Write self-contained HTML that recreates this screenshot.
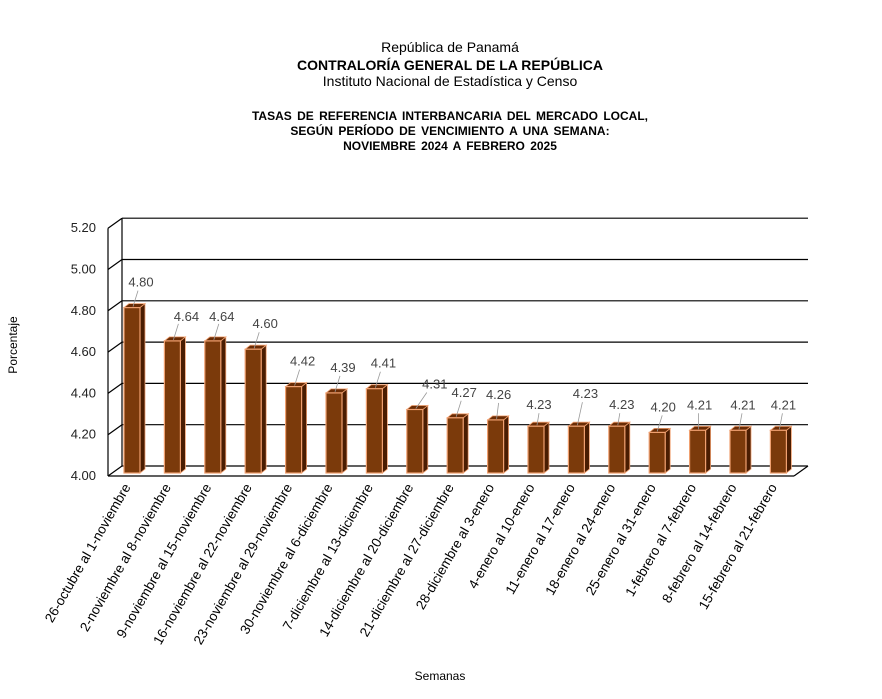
<!DOCTYPE html><html><head><meta charset="utf-8"><style>body{margin:0;background:#fff}svg{font-family:"Liberation Sans",sans-serif}
.f{fill:#7b3a0b;stroke:#f0a070;stroke-width:1.2}.s{fill:#4a1d02;stroke:#f0a070;stroke-width:.8}.t{fill:#6a2c05;stroke:#f0a070;stroke-width:.8}.l{stroke:#999;stroke-width:.8}.v{font-size:13px;fill:#444;text-anchor:middle}.x{font-size:13.5px;text-anchor:end;fill:#000}.y{font-size:13px;text-anchor:end;fill:#222}</style></head><body>
<svg width="882" height="694" xmlns="http://www.w3.org/2000/svg">
<g text-anchor="middle" fill="#000">
<text x="450" y="52" font-size="14">República de Panamá</text>
<text x="450" y="70" font-size="14" font-weight="bold">CONTRALORÍA GENERAL DE LA REPÚBLICA</text>
<text x="450" y="86" font-size="14">Instituto Nacional de Estadística y Censo</text>
<text x="450" y="120" font-size="12" font-weight="bold" word-spacing="2">TASAS DE REFERENCIA INTERBANCARIA DEL MERCADO LOCAL,</text>
<text x="450" y="135" font-size="12" font-weight="bold" word-spacing="2">SEGÚN PERÍODO DE VENCIMIENTO A UNA SEMANA:</text>
<text x="450" y="150" font-size="12" font-weight="bold" word-spacing="2">NOVIEMBRE 2024 A FEBRERO 2025</text>
<text x="440" y="680" font-size="12">Semanas</text>
<text transform="translate(17,345) rotate(-90)" font-size="12">Porcentaje</text>
</g>
<g stroke="#000" stroke-width="1.2" fill="none">
<line x1="108" y1="476" x2="122" y2="466"/><line x1="122" y1="466" x2="808" y2="466"/>
<line x1="108" y1="434.7" x2="122" y2="424.7"/><line x1="122" y1="424.7" x2="808" y2="424.7"/>
<line x1="108" y1="393.4" x2="122" y2="383.4"/><line x1="122" y1="383.4" x2="808" y2="383.4"/>
<line x1="108" y1="352.1" x2="122" y2="342.1"/><line x1="122" y1="342.1" x2="808" y2="342.1"/>
<line x1="108" y1="310.8" x2="122" y2="300.8"/><line x1="122" y1="300.8" x2="808" y2="300.8"/>
<line x1="108" y1="269.5" x2="122" y2="259.5"/><line x1="122" y1="259.5" x2="808" y2="259.5"/>
<line x1="108" y1="228.2" x2="122" y2="218.2"/><line x1="122" y1="218.2" x2="808" y2="218.2"/>
<line x1="108" y1="476" x2="108" y2="228.2"/><line x1="122" y1="466" x2="122" y2="218.2"/>
<line x1="108" y1="476" x2="794" y2="476"/><line x1="794" y1="476" x2="808" y2="466"/>
</g>
<text class="y" x="96" y="480">4.00</text><text class="y" x="96" y="438.7">4.20</text><text class="y" x="96" y="397.4">4.40</text><text class="y" x="96" y="356.1">4.60</text><text class="y" x="96" y="314.8">4.80</text><text class="y" x="96" y="273.5">5.00</text><text class="y" x="96" y="232.2">5.20</text>

<g transform="translate(124,307.6)"><polygon class="s" points="16,0 21,-4 21,161.4 16,165.4"/><polygon class="t" points="0,0 5,-4 21,-4 16,0"/><rect class="f" width="16" height="165.4"/><line class="l" x1="9" y1="-1" x2="14" y2="-17"/><text class="v" x="17" y="-21">4.80</text></g>
<g transform="translate(164.4,340.9)"><polygon class="s" points="16,0 21,-4 21,128.1 16,132.1"/><polygon class="t" points="0,0 5,-4 21,-4 16,0"/><rect class="f" width="16" height="132.1"/><line class="l" x1="9" y1="-1" x2="14" y2="-17"/><text class="v" x="22" y="-20">4.64</text></g>
<g transform="translate(204.8,340.9)"><polygon class="s" points="16,0 21,-4 21,128.1 16,132.1"/><polygon class="t" points="0,0 5,-4 21,-4 16,0"/><rect class="f" width="16" height="132.1"/><line class="l" x1="9" y1="-1" x2="14" y2="-17"/><text class="v" x="17" y="-20">4.64</text></g>
<g transform="translate(245.2,349.2)"><polygon class="s" points="16,0 21,-4 21,119.8 16,123.8"/><polygon class="t" points="0,0 5,-4 21,-4 16,0"/><rect class="f" width="16" height="123.8"/><line class="l" x1="9" y1="-1" x2="14" y2="-17"/><text class="v" x="20" y="-21">4.60</text></g>
<g transform="translate(285.6,386.6)"><polygon class="s" points="16,0 21,-4 21,82.4 16,86.4"/><polygon class="t" points="0,0 5,-4 21,-4 16,0"/><rect class="f" width="16" height="86.4"/><line class="l" x1="9" y1="-1" x2="14" y2="-17"/><text class="v" x="17" y="-21">4.42</text></g>
<g transform="translate(326,392.9)"><polygon class="s" points="16,0 21,-4 21,76.1 16,80.1"/><polygon class="t" points="0,0 5,-4 21,-4 16,0"/><rect class="f" width="16" height="80.1"/><line class="l" x1="9" y1="-1" x2="14" y2="-17"/><text class="v" x="17" y="-21">4.39</text></g>
<g transform="translate(366.4,388.7)"><polygon class="s" points="16,0 21,-4 21,80.3 16,84.3"/><polygon class="t" points="0,0 5,-4 21,-4 16,0"/><rect class="f" width="16" height="84.3"/><line class="l" x1="9" y1="-1" x2="14" y2="-17"/><text class="v" x="17" y="-21">4.41</text></g>
<g transform="translate(406.8,409.5)"><polygon class="s" points="16,0 21,-4 21,59.5 16,63.5"/><polygon class="t" points="0,0 5,-4 21,-4 16,0"/><rect class="f" width="16" height="63.5"/><line class="l" x1="9" y1="-1" x2="20" y2="-17"/><text class="v" x="28" y="-21">4.31</text></g>
<g transform="translate(447.2,417.8)"><polygon class="s" points="16,0 21,-4 21,51.2 16,55.2"/><polygon class="t" points="0,0 5,-4 21,-4 16,0"/><rect class="f" width="16" height="55.2"/><line class="l" x1="9" y1="-1" x2="14" y2="-17"/><text class="v" x="17" y="-21">4.27</text></g>
<g transform="translate(487.6,419.9)"><polygon class="s" points="16,0 21,-4 21,49.1 16,53.1"/><polygon class="t" points="0,0 5,-4 21,-4 16,0"/><rect class="f" width="16" height="53.1"/><line class="l" x1="9" y1="-1" x2="11" y2="-17"/><text class="v" x="11" y="-21">4.26</text></g>
<g transform="translate(528,426.2)"><polygon class="s" points="16,0 21,-4 21,42.8 16,46.8"/><polygon class="t" points="0,0 5,-4 21,-4 16,0"/><rect class="f" width="16" height="46.8"/><line class="l" x1="9" y1="-1" x2="11" y2="-13"/><text class="v" x="11" y="-17">4.23</text></g>
<g transform="translate(568.4,426.2)"><polygon class="s" points="16,0 21,-4 21,42.8 16,46.8"/><polygon class="t" points="0,0 5,-4 21,-4 16,0"/><rect class="f" width="16" height="46.8"/><line class="l" x1="9" y1="-1" x2="14" y2="-24"/><text class="v" x="17" y="-28">4.23</text></g>
<g transform="translate(608.8,426.2)"><polygon class="s" points="16,0 21,-4 21,42.8 16,46.8"/><polygon class="t" points="0,0 5,-4 21,-4 16,0"/><rect class="f" width="16" height="46.8"/><line class="l" x1="9" y1="-1" x2="11" y2="-13"/><text class="v" x="13" y="-17">4.23</text></g>
<g transform="translate(649.2,432.4)"><polygon class="s" points="16,0 21,-4 21,36.6 16,40.6"/><polygon class="t" points="0,0 5,-4 21,-4 16,0"/><rect class="f" width="16" height="40.6"/><line class="l" x1="8" y1="-1" x2="13" y2="-17"/><text class="v" x="14" y="-21">4.20</text></g>
<g transform="translate(689.6,430.3)"><polygon class="s" points="16,0 21,-4 21,38.7 16,42.7"/><polygon class="t" points="0,0 5,-4 21,-4 16,0"/><rect class="f" width="16" height="42.7"/><line class="l" x1="9" y1="-1" x2="9" y2="-17"/><text class="v" x="10" y="-21">4.21</text></g>
<g transform="translate(730,430.3)"><polygon class="s" points="16,0 21,-4 21,38.7 16,42.7"/><polygon class="t" points="0,0 5,-4 21,-4 16,0"/><rect class="f" width="16" height="42.7"/><line class="l" x1="9" y1="-1" x2="12" y2="-17"/><text class="v" x="13" y="-21">4.21</text></g>
<g transform="translate(770.4,430.3)"><polygon class="s" points="16,0 21,-4 21,38.7 16,42.7"/><polygon class="t" points="0,0 5,-4 21,-4 16,0"/><rect class="f" width="16" height="42.7"/><line class="l" x1="9" y1="-1" x2="12" y2="-17"/><text class="v" x="13" y="-21">4.21</text></g>

<text class="x" transform="translate(131,487) rotate(-60)">26-octubre al 1-noviembre</text>
<text class="x" transform="translate(171.4,487) rotate(-60)">2-noviembre al 8-noviembre</text>
<text class="x" transform="translate(211.8,487) rotate(-60)">9-noviembre al 15-noviembre</text>
<text class="x" transform="translate(252.2,487) rotate(-60)">16-noviembre al 22-noviembre</text>
<text class="x" transform="translate(292.6,487) rotate(-60)">23-noviembre al 29-noviembre</text>
<text class="x" transform="translate(333,487) rotate(-60)">30-noviembre al 6-diciembre</text>
<text class="x" transform="translate(373.4,487) rotate(-60)">7-diciembre al 13-diciembre</text>
<text class="x" transform="translate(413.8,487) rotate(-60)">14-diciembre al 20-diciembre</text>
<text class="x" transform="translate(454.2,487) rotate(-60)">21-diciembre al 27-diciembre</text>
<text class="x" transform="translate(494.6,487) rotate(-60)">28-diciembre al 3-enero</text>
<text class="x" transform="translate(535,487) rotate(-60)">4-enero al 10-enero</text>
<text class="x" transform="translate(575.4,487) rotate(-60)">11-enero al 17-enero</text>
<text class="x" transform="translate(615.8,487) rotate(-60)">18-enero al 24-enero</text>
<text class="x" transform="translate(656.2,487) rotate(-60)">25-enero al 31-enero</text>
<text class="x" transform="translate(696.6,487) rotate(-60)">1-febrero al 7-febrero</text>
<text class="x" transform="translate(737,487) rotate(-60)">8-febrero al 14-febrero</text>
<text class="x" transform="translate(777.4,487) rotate(-60)">15-febrero al 21-febrero</text>
</svg></body></html>
